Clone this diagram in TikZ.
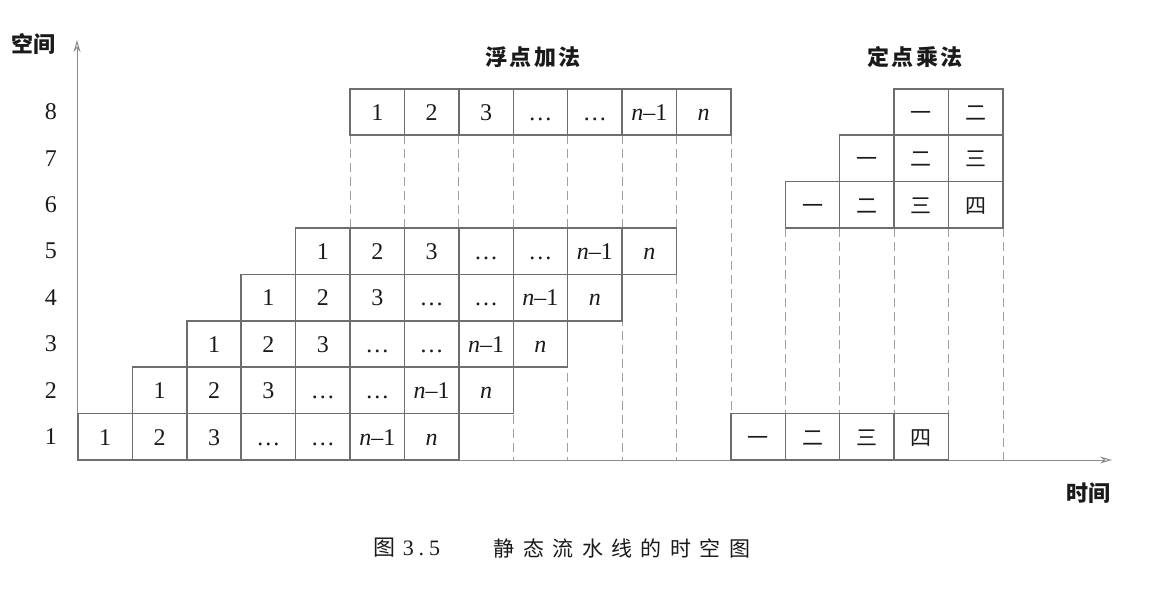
\documentclass[tikz,border=0pt]{standalone}
\usepackage{fontspec}
\setmainfont{Liberation Serif}
\newfontfamily\cjk{Noto Sans CJK SC}
\newfontfamily\cjkcap[LetterSpace=40]{Noto Sans CJK SC}
\newfontfamily\cjktitle[LetterSpace=12]{Noto Sans CJK SC}
\usetikzlibrary{arrows.meta}
\definecolor{boxgray}{HTML}{6E6E6E}
\definecolor{dashgray}{HTML}{A0A0A0}
\definecolor{axisgray}{HTML}{8C8C8C}
\definecolor{ink}{HTML}{1A1A1A}
\begin{document}
\begin{tikzpicture}[x=1pt,y=-1pt,
  cell/.style={draw=boxgray, line width=1.5pt, fill=white, text=ink,
    minimum width=54.41pt, minimum height=46.4pt, inner sep=0pt,
    text height=16.5pt, text depth=0pt,
    font=\fontsize{24}{24}\selectfont},
  cjkcell/.style={cell, text height=18pt, text depth=1pt,
    font=\cjk\fontsize{21}{21}\selectfont},
  guide/.style={draw=dashgray, line width=0.8pt, dash pattern=on 9pt off 5pt},
  axisline/.style={draw=axisgray, line width=1pt},
  rowlabel/.style={text=ink, font=\fontsize{24}{24}\selectfont},
  axislabel/.style={text=ink, font=\cjk\bfseries\fontsize{22}{22}\selectfont},
  title/.style={text=ink, font=\cjktitle\bfseries\fontsize{22}{22}\selectfont},
]
\useasboundingbox (0,0) rectangle (1152,590);
\def\cw{54.41}\def\rh{46.4}\def\xo{78}\def\yo{460}

% axes
\coordinate (O) at (77,\yo);
\coordinate (xend) at (1112,\yo);
\coordinate (yend) at (77,40);
\draw[axisline,-{Stealth[length=12pt,width=7pt,open]}] (O) -- (xend);
\draw[axisline,-{Stealth[length=12pt,width=7pt,open]}] (O) -- (yend);

% dashed time guides under the highest stage boxes
\foreach \c in {5,...,12}
  \draw[guide] ({\xo+\c*\cw},{\yo-7*\rh}) -- ({\xo+\c*\cw},\yo);
\foreach \c in {13,...,17}
  \draw[guide] ({\xo+\c*\cw},{\yo-5*\rh}) -- ({\xo+\c*\cw},\yo);

% floating-point addition: stages 1-5 and 8
\foreach \r/\s in {1/0,2/1,3/2,4/3,5/4,8/5}{
  \foreach \t [count=\i from 0] in {1,2,3,\ldots,\ldots,{\textit{n}–1},\textit{n}}{
    \node[cell] (fa-\r-\i) at ({\xo+(\s+\i+0.5)*\cw},{\yo-(\r-0.5)*\rh}) {\t};
  }
}

% fixed-point multiplication: stages 1, 6, 7 and 8
\foreach \r/\s/\lst in {1/12/{一,二,三,四},6/13/{一,二,三,四},7/14/{一,二,三},8/15/{一,二}}{
  \foreach \t [count=\i from 0] in \lst{
    \node[cjkcell] (fm-\r-\i) at ({\xo+(\s+\i+0.5)*\cw},{\yo-(\r-0.5)*\rh}) {\t};
  }
}

% stage numbers
\foreach \r in {1,...,8}
  \node[rowlabel] (row-\r) at (51,{\yo-(\r-0.5)*\rh}) {\r};

% axis and group labels
\node[axislabel] (space) at (34,44) {空间};
\node[axislabel] (time) at (1088,493) {时间};
\node[title] (fadd) at (533,57) {浮点加法};
\node[title] (fmul) at (915,57) {定点乘法};

% caption
\node[text=ink, font=\fontsize{22}{22}\selectfont] (capnum) at (407,548)
  {{\cjk 图}\hspace{7pt}3\hspace{5pt}.\hspace{5pt}5};
\node[text=ink, font=\cjkcap\fontsize{21}{21}\selectfont] (captext) at (622,548)
  {静态流水线的时空图};
\end{tikzpicture}
\end{document}
